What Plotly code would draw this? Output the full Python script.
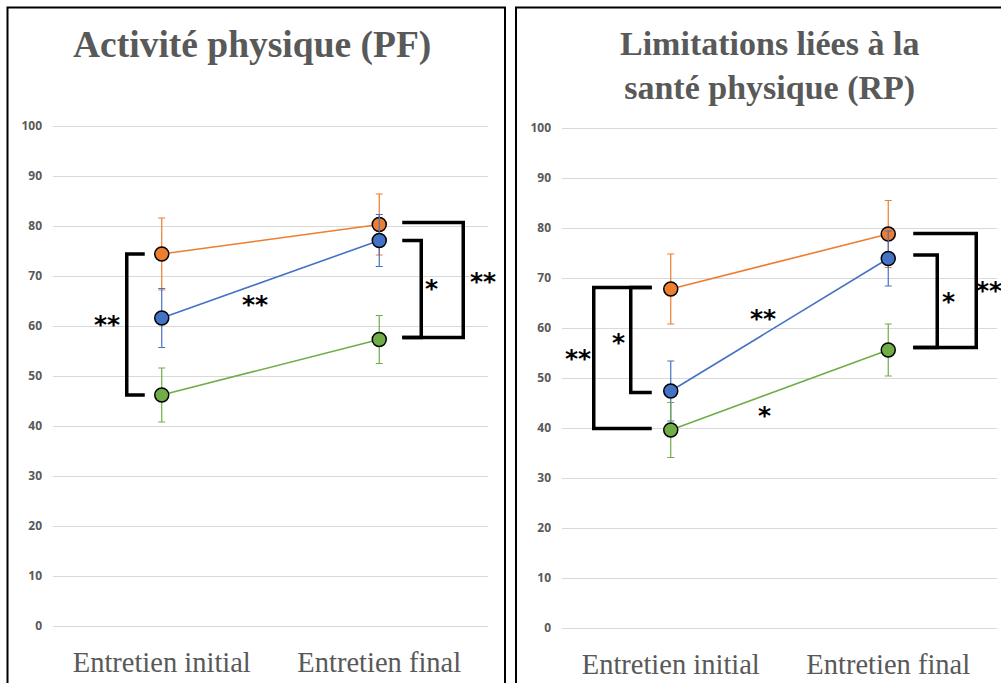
import plotly.graph_objects as go

W, H = 1001, 683

categories = ["Entretien initial", "Entretien final"]

# Panel 1 : Activité physique (PF)
pf_orange = [74.4, 80.3]
pf_orange_err = [7.2, 6.1]
pf_blue = [61.6, 77.1]
pf_blue_err = [5.9, 5.2]
pf_green = [46.2, 57.3]
pf_green_err = [5.4, 4.8]

# Panel 2 : Limitations liées à la santé physique (RP)
rp_orange = [67.8, 78.8]
rp_orange_err = [7.0, 6.7]
rp_blue = [47.4, 73.9]
rp_blue_err = [6.0, 5.5]
rp_green = [39.6, 55.6]
rp_green_err = [5.5, 5.2]

y_ticks = [0, 10, 20, 30, 40, 50, 60, 70, 80, 90, 100]

titles = ["<b>Activité physique (PF)</b>", "<b>Limitations liées à la<br>santé physique (RP)</b>"]

ORANGE, BLUE, GREEN = "#ED7D31", "#4472C4", "#70AD47"
GRAY = "#595959"

fig = go.Figure()

panels = [
    dict(xa="x", ya="y", series=[(pf_orange, pf_orange_err, ORANGE), (pf_blue, pf_blue_err, BLUE), (pf_green, pf_green_err, GREEN)]),
    dict(xa="x2", ya="y2", series=[(rp_orange, rp_orange_err, ORANGE), (rp_blue, rp_blue_err, BLUE), (rp_green, rp_green_err, GREEN)]),
]

for p in panels:
    for vals, errs, col in p["series"]:
        fig.add_trace(go.Scatter(
            x=categories, y=vals, xaxis=p["xa"], yaxis=p["ya"],
            mode="lines+markers",
            line=dict(color=col, width=1.6),
            marker=dict(color=col, size=14, line=dict(color="black", width=1.5)),
            error_y=dict(type="data", array=errs, visible=True, color=col, thickness=1.2, width=3.5),
            showlegend=False, hoverinfo="skip",
        ))

axis_common_x = dict(type="category", range=[-0.5, 1.5], showgrid=False, zeroline=False,
                     showline=False, ticks="", tickfont=dict(family="Liberation Serif", size=28.5, color=GRAY),
                     ticklabelstandoff=2)
axis_common_y = dict(range=[-2.8, 105], tickvals=y_ticks, showgrid=True, gridcolor="#D9D9D9", gridwidth=1,
                     zeroline=False, showline=False, ticks="",
                     tickfont=dict(family="Open Sans", size=12, color=GRAY, weight="bold"),
                     ticklabelstandoff=10)

fig.update_layout(
    width=W, height=H, margin=dict(l=0, r=0, t=0, b=0),
    paper_bgcolor="white", plot_bgcolor="white",
    xaxis=dict(domain=[53 / W, 488 / W], anchor="y", **axis_common_x),
    yaxis=dict(domain=[43 / H, 582 / H], anchor="x", **axis_common_y),
    xaxis2=dict(domain=[562 / W, 997 / W], anchor="y2", **axis_common_x),
    yaxis2=dict(domain=[41 / H, 580 / H], anchor="x2", **axis_common_y),
)

# Panel borders
fig.add_shape(type="rect", xref="paper", yref="paper", x0=7.5 / W, x1=505 / W, y0=-0.1, y1=(H - 7.5) / H,
              line=dict(color="black", width=2), layer="above")
fig.add_shape(type="rect", xref="paper", yref="paper", x0=516 / W, x1=1.1, y0=-0.1, y1=(H - 7.5) / H,
              line=dict(color="black", width=2), layer="above")

# Titles
fig.add_annotation(text=titles[0], xref="paper", yref="paper", x=252 / W, y=(H - 45) / H,
                   showarrow=False, xanchor="center", yanchor="middle",
                   font=dict(family="Liberation Serif", size=37.5, color=GRAY))
fig.add_annotation(text=titles[1], xref="paper", yref="paper", x=769 / W, y=(H - 66) / H,
                   showarrow=False, xanchor="center", yanchor="middle",
                   font=dict(family="Liberation Serif", size=34, color=GRAY))

# Significance brackets: (xaxis, yaxis, category index, pixel x of arms, pixel x of vertical, y top, y bottom)
brackets = [
    ("x", "y", 0, -17, -35, pf_orange[0], pf_green[0]),
    ("x", "y", 1, 23, 42, pf_blue[1], pf_green[1] + 0.4),
    ("x", "y", 1, 23, 84, pf_orange[1] + 0.4, pf_green[1] + 0.4),
    ("x2", "y2", 0, -19, -77, rp_orange[0] + 0.3, rp_green[0] + 0.3),
    ("x2", "y2", 0, -19, -40, rp_orange[0] + 0.3, rp_blue[0] - 0.3),
    ("x2", "y2", 1, 25, 88, rp_orange[1] + 0.1, rp_green[1] + 0.5),
    ("x2", "y2", 1, 25, 49, rp_blue[1] + 0.7, rp_green[1] + 0.5),
]
for xa, ya, ci, xa_px, xv_px, ytop, ybot in brackets:
    fig.add_shape(type="path", xref=xa, yref=ya, xsizemode="pixel", xanchor=ci,
                  path=f"M {xa_px},{ytop} L {xv_px},{ytop} L {xv_px},{ybot} L {xa_px},{ybot}",
                  line=dict(color="black", width=3.5), layer="above")

# Asterisk labels: (xaxis, yaxis, category index, pixel shift, y, text)
stars = [
    ("x", "y", 0, -55, 61.4, "**"),
    ("x", "y", 0, 93, 65.4, "**"),
    ("x", "y", 1, 52, 68.6, "*"),
    ("x", "y", 1, 104, 70.0, "**"),
    ("x2", "y2", 0, -93, 55.0, "**"),
    ("x2", "y2", 0, -52, 58.2, "*"),
    ("x2", "y2", 0, 92, 63.0, "**"),
    ("x2", "y2", 0, 94, 43.6, "*"),
    ("x2", "y2", 1, 60, 66.4, "*"),
    ("x2", "y2", 1, 101, 68.6, "**"),
]
for xa, ya, ci, sh, yv, txt in stars:
    fig.add_annotation(text=f"<b>{txt}</b>", xref=xa, yref=ya, x=ci, y=yv, xshift=sh, yshift=-5,
                       showarrow=False, xanchor="center", yanchor="middle",
                       font=dict(family="DejaVu Sans", size=25, color="black"))

fig.write_html("out.html")
